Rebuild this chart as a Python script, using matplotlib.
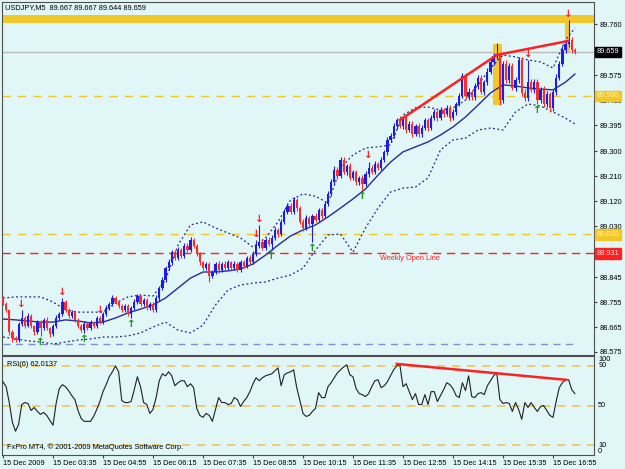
import numpy as np
import matplotlib.pyplot as plt
from matplotlib.patches import Rectangle
import matplotlib.transforms as mtransforms

plt.rcParams['font.family'] = ['Liberation Sans', 'DejaVu Sans']

# ---- price data (M5 bars) ----
first_open = 88.770
closes = [
    88.748, 88.727, 88.647, 88.625, 88.618, 88.676, 88.698, 88.669, 88.705, 88.669,
    88.647, 88.683, 88.662, 88.691, 88.662, 88.640, 88.669, 88.698, 88.712, 88.756,
    88.727, 88.705, 88.719, 88.691, 88.669, 88.654, 88.676, 88.662, 88.683, 88.669,
    88.698, 88.683, 88.712, 88.734, 88.748, 88.770, 88.756, 88.741, 88.727, 88.741,
    88.712, 88.734, 88.756, 88.777, 88.748, 88.763, 88.734, 88.748, 88.727, 88.770,
    88.806, 88.835, 88.878, 88.900, 88.936, 88.915, 88.944, 88.922, 88.958, 88.944,
    88.980, 88.958, 88.929, 88.900, 88.878, 88.893, 88.849, 88.864, 88.893, 88.871,
    88.893, 88.878, 88.900, 88.878, 88.893, 88.871, 88.900, 88.886, 88.915, 88.900,
    88.929, 88.958, 88.972, 88.951, 88.980, 88.965, 88.987, 89.016, 89.001, 89.045,
    89.081, 89.102, 89.081, 89.124, 89.095, 89.045, 89.023, 89.059, 89.037, 89.066,
    89.052, 89.088, 89.066, 89.110, 89.146, 89.189, 89.233, 89.211, 89.269, 89.225,
    89.247, 89.204, 89.225, 89.189, 89.204, 89.182, 89.218, 89.240, 89.225, 89.254,
    89.240, 89.269, 89.297, 89.341, 89.355, 89.391, 89.413, 89.391, 89.420, 89.377,
    89.399, 89.362, 89.391, 89.362, 89.384, 89.413, 89.384, 89.420, 89.442, 89.420,
    89.449, 89.435, 89.457, 89.420, 89.442, 89.471, 89.500, 89.572, 89.500, 89.514,
    89.496, 89.536, 89.565, 89.514, 89.550, 89.587, 89.623, 89.644, 89.652, 89.485,
    89.615, 89.558, 89.608, 89.529, 89.558, 89.630, 89.511, 89.493, 89.550, 89.522,
    89.550, 89.485, 89.522, 89.471, 89.507, 89.457, 89.514, 89.565, 89.615, 89.666,
    89.688, 89.702, 89.666, 89.659]

# wick lengths above / below the body, in points (0.001)
hi_ext = [
    6, 8, 5, 7, 6, 9, 29, 7, 10, 6,
    5, 9, 7, 6, 10, 5, 8, 9, 7, 14,
    8, 6, 9, 5, 7, 8, 10, 6, 9, 5,
    7, 6, 8, 9, 7, 10, 6, 5, 9, 7,
    6, 8, 10, 9, 5, 8, 6, 9, 7, 10,
    9, 11, 8, 12, 9, 7, 10, 8, 9, 11,
    10, 8, 6, 9, 5, 8, 6, 9, 8, 10,
    6, 9, 8, 5, 10, 6, 9, 8, 6, 9,
    10, 22, 62, 11, 8, 12, 9, 10, 8, 11,
    9, 12, 10, 11, 8, 6, 9, 11, 8, 9,
    10, 8, 9, 11, 12, 10, 14, 11, 10, 9,
    8, 10, 9, 7, 8, 9, 11, 22, 9, 10,
    8, 11, 9, 12, 10, 11, 9, 13, 8, 10,
    9, 11, 8, 10, 12, 9, 8, 11, 10, 9,
    11, 8, 10, 9, 12, 8, 11, 11, 10, 14,
    9, 11, 10, 12, 9, 13, 11, 12, 39, 8,
    13, 15, 11, 12, 12, 10, 12, 15, 80, 11,
    10, 12, 9, 13, 11, 9, 12, 13, 11, 15,
    13, 72, 11, 9]
lo_ext = [
    5, 7, 10, 14, 8, 7, 6, 8, 5, 7,
    9, 6, 29, 7, 8, 10, 7, 6, 8, 7,
    6, 8, 7, 9, 7, 6, 10, 7, 6, 8,
    7, 6, 8, 7, 9, 6, 7, 8, 6, 9,
    8, 14, 7, 6, 8, 7, 9, 6, 8, 7,
    9, 7, 8, 6, 10, 7, 8, 9, 7, 8,
    6, 8, 7, 9, 8, 7, 21, 8, 7, 9,
    7, 8, 6, 9, 7, 8, 7, 6, 8, 7,
    8, 7, 9, 8, 7, 8, 21, 7, 9, 8,
    7, 9, 8, 7, 10, 8, 11, 8, 7, 65,
    8, 7, 9, 8, 7, 9, 8, 10, 9, 8,
    10, 8, 9, 11, 10, 22, 8, 9, 7, 8,
    9, 8, 7, 10, 8, 7, 9, 8, 10, 12,
    9, 11, 8, 10, 9, 8, 11, 7, 8, 9,
    8, 10, 9, 11, 8, 10, 9, 8, 11, 14,
    10, 9, 11, 8, 10, 9, 8, 10, 9, 18,
    11, 10, 12, 9, 11, 10, 12, 11, 10, 9,
    12, 14, 11, 10, 12, 14, 11, 10, 9, 8,
    10, 11, 12, 9]

# Bollinger bands, sampled every 4 bars
band_bars = list(range(0, 181, 4)) + [183]
upper = [88.770, 88.774, 88.774, 88.774, 88.756, 88.727, 88.719, 88.719, 88.719, 88.752,
         88.774, 88.781, 88.777, 88.835, 88.961, 89.034, 89.045, 89.023, 89.005, 88.987,
         88.954, 88.987, 89.045, 89.124, 89.146, 89.138, 89.113, 89.240, 89.287, 89.312,
         89.316, 89.323, 89.431, 89.457, 89.460, 89.449, 89.457, 89.485, 89.540, 89.601,
         89.648, 89.641, 89.630, 89.623, 89.601, 89.702, 89.746]
middle = [88.694, 88.691, 88.687, 88.683, 88.683, 88.691, 88.687, 88.680, 88.683, 88.698,
          88.716, 88.730, 88.745, 88.770, 88.806, 88.842, 88.864, 88.864, 88.868, 88.875,
          88.893, 88.925, 88.961, 88.994, 89.016, 89.034, 89.063, 89.095, 89.128, 89.164,
          89.214, 89.261, 89.298, 89.316, 89.334, 89.359, 89.388, 89.424, 89.467, 89.511,
          89.540, 89.536, 89.529, 89.525, 89.522, 89.550, 89.579]
lower = [88.629, 88.622, 88.615, 88.611, 88.604, 88.611, 88.618, 88.622, 88.629, 88.629,
         88.633, 88.644, 88.665, 88.683, 88.654, 88.644, 88.672, 88.745, 88.799, 88.817,
         88.824, 88.828, 88.842, 88.853, 88.878, 88.943, 88.998, 89.001, 88.936, 89.023,
         89.095, 89.153, 89.167, 89.171, 89.204, 89.305, 89.341, 89.348, 89.377, 89.384,
         89.377, 89.442, 89.471, 89.464, 89.442, 89.420, 89.399]

# fractal arrows
down_arrows = [6, 19, 31, 81, 82, 117, 168, 181]
up_arrows = [12, 26, 41, 86, 99, 115, 171]

# RSI(6)
rsi = [
    74, 69, 53, 33, 24, 31, 51, 53, 52, 45,
    48, 44, 41, 43, 40, 35, 30, 52, 67, 71,
    69, 65, 60, 56, 45, 37, 34, 34, 34, 39,
    46, 54, 64, 71, 79, 84, 90, 84, 55, 53,
    53, 54, 66, 79, 69, 53, 51, 42, 46, 58,
    75, 82, 80, 84, 80, 70, 73, 75, 75, 69,
    72, 68, 47, 40, 38, 42, 40, 34, 46, 58,
    53, 53, 51, 52, 58, 56, 49, 54, 58, 64,
    72, 78, 75, 78, 80, 81, 82, 85, 88, 70,
    81, 83, 84, 86, 68, 55, 42, 39, 40, 44,
    47, 63, 58, 58, 69, 73, 78, 83, 86, 89,
    91, 81, 79, 67, 62, 61, 59, 62, 69, 75,
    76, 68, 70, 74, 80, 86, 90, 91, 69, 72,
    64, 56, 62, 51, 51, 61, 51, 64, 64, 54,
    60, 66, 73, 71, 67, 60, 58, 73, 65, 80,
    59, 58, 62, 63, 61, 70, 75, 80, 83, 56,
    52, 53, 52, 44, 53, 46, 36, 53, 48, 53,
    48, 44, 49, 50, 45, 40, 38, 54, 68, 73,
    76, 76, 66, 62]

# objects drawn on the chart
trend_bars = [127, 158, 181]
trend_prices = [89.413, 89.648, 89.699]
rsi_trend_bars = [126, 180]
rsi_trend_vals = [92, 76]
highlight_boxes = [(156.9, 159.8, 89.467, 89.687), (179.8, 181.4, 89.660, 89.786)]
resistance_band = (89.764, 89.793)
bid = 89.659
yellow_levels = [89.500, 89.000]
weekly_open = 88.931
support_line = 88.604

price_ticks = [89.760, 89.575, 89.485, 89.395, 89.300, 89.210, 89.120, 89.030,
               88.845, 88.755, 88.665, 88.575]
time_labels = ['15 Dec 2009', '15 Dec 03:35', '15 Dec 04:55', '15 Dec 06:15',
               '15 Dec 07:35', '15 Dec 08:55', '15 Dec 10:15', '15 Dec 11:35',
               '15 Dec 12:55', '15 Dec 14:15', '15 Dec 15:35', '15 Dec 16:55']

BG = '#e0f6f7'
GOLD = '#f2c72a'
RED = '#ff2020'
BULL = '#1c1ce6'
BEAR = '#ff2a2a'
BAND = '#24248c'
FS = 5.3

closes = np.array(closes)
opens = np.concatenate([[first_open], closes[:-1]])
bars = np.arange(len(closes))
highs = np.maximum(opens, closes) + np.array(hi_ext) / 1000
lows = np.minimum(opens, closes) - np.array(lo_ext) / 1000

fig = plt.figure(figsize=(6.25, 4.69), dpi=100, facecolor=BG)
W, H = 625, 469
ax = fig.add_axes([2 / W, 1 - 355 / H, 592 / W, 353 / H], facecolor=BG)
ax2 = fig.add_axes([2 / W, 1 - 455 / H, 592 / W, 99 / H], facecolor=BG)

xlim = (-0.32, 189.12)

# ---- price panel ----
ax.axhspan(*resistance_band, color=GOLD, lw=0, zorder=1)
ax.axhline(bid, color='#bdbdbd', lw=1, zorder=1)
for lv in yellow_levels:
    ax.axhline(lv, color=GOLD, lw=1, dashes=(6, 5), zorder=1)
ax.axhline(weekly_open, color=RED, lw=1, dashes=(6, 4), zorder=1)
ax.plot([0, 183], [support_line, support_line], color='#7f8fd0', lw=1, dashes=(5, 4), zorder=1)
ax.text(120.6, weekly_open - 0.007, 'Weekly Open Line', color=RED, fontsize=FS,
        va='top', ha='left', zorder=3)

for x0, x1, y0, y1 in highlight_boxes:
    ax.add_patch(Rectangle((x0, y0), x1 - x0, y1 - y0, color=GOLD, lw=0, zorder=1.5))

ax.plot(band_bars, upper, color=BAND, lw=0.9, dashes=(1.5, 2), zorder=2)
ax.plot(band_bars, lower, color=BAND, lw=0.9, dashes=(1.5, 2), zorder=2)
ax.plot(band_bars, middle, color='#2a2a9a', lw=1.0, zorder=2)

colors = np.where(closes >= opens, BULL, BEAR)
ax.vlines(bars, lows, highs, colors=colors, lw=0.8, zorder=3)
body = np.maximum(np.abs(closes - opens), 0.003)
ax.bar(bars, body, bottom=np.minimum(opens, closes), width=0.72, color=colors, lw=0, zorder=3)

ax.plot(trend_bars, trend_prices, color=RED, lw=1.8, zorder=4)

for b in down_arrows:
    ax.annotate('\u2193', (b, highs[b]), xytext=(0, 1), textcoords='offset points',
                ha='center', va='bottom', color=RED, fontsize=7.5, fontweight='bold',
                family='DejaVu Sans', zorder=5)
for b in up_arrows:
    ax.annotate('\u2191', (b, lows[b]), xytext=(0, -1), textcoords='offset points',
                ha='center', va='top', color='#119911', fontsize=7.5, fontweight='bold',
                family='DejaVu Sans', zorder=5)

ax.set_xlim(*xlim)
ax.set_ylim(88.5641, 89.8395)
ax.set_xticks([])
ax.yaxis.tick_right()
ax.set_yticks(price_ticks)
ax.set_yticklabels(['%.3f' % t for t in price_ticks])
ax.tick_params(axis='y', labelsize=FS, length=2, pad=2, width=0.8, color='#404040')
for s in ax.spines.values():
    s.set_color('#505050')
    s.set_linewidth(0.8)

tr = mtransforms.blended_transform_factory(ax.transAxes, ax.transData)
boxes = [(bid, 'black', 'white'), (89.500, GOLD, '#fff4b0'),
         (89.000, GOLD, '#fff4b0'), (weekly_open, RED, '#ffe0e0')]
for val, fc, tc in boxes:
    ax.text(1.005, val, '%.3f' % val, transform=tr, fontsize=FS, color=tc,
            va='center', ha='left', clip_on=False, zorder=10,
            bbox=dict(boxstyle='square,pad=0.25', fc=fc, ec=fc))

fig.text(5 / W, 1 - 8 / H, 'USDJPY,M5  89.667 89.667 89.644 89.659', fontsize=FS,
         va='center', ha='left')

# ---- RSI panel ----
for lv in [90, 50, 10]:
    ax2.axhline(lv, color='#f0c45a', lw=1.2, dashes=(5, 4), zorder=1)
ax2.plot(bars, rsi, color='#202020', lw=0.8, zorder=3)
ax2.plot(rsi_trend_bars, rsi_trend_vals, color=RED, lw=1.8, zorder=4)
ax2.set_xlim(*xlim)
ax2.set_ylim(0, 100)
ax2.set_yticks([])
ax2.set_xticks(np.arange(0, 177, 16))
ax2.set_xticklabels(time_labels, ha='left')
ax2.tick_params(axis='x', labelsize=FS, length=2, pad=1.5, width=0.8, color='#404040')
for s in ax2.spines.values():
    s.set_color('#505050')
    s.set_linewidth(0.8)

tr2 = mtransforms.blended_transform_factory(ax2.transAxes, ax2.transData)
for val, va in [(100, 'top'), (90, 'center'), (50, 'center'), (10, 'center'), (0, 'bottom')]:
    ax2.text(1.007, val, str(val), transform=tr2, fontsize=FS, va=va, ha='left', clip_on=False)

ax2.text(5 / 592, 1 - 8 / 99, 'RSI(6) 62.0137', transform=ax2.transAxes, fontsize=FS,
         va='center', ha='left')
ax2.text(5 / 592, 8 / 99, 'FxPro MT4, \u00a9 2001-2009 MetaQuotes Software Corp.',
         transform=ax2.transAxes, fontsize=FS, va='center', ha='left')

fig.savefig('out.png', dpi=100, facecolor=BG)
